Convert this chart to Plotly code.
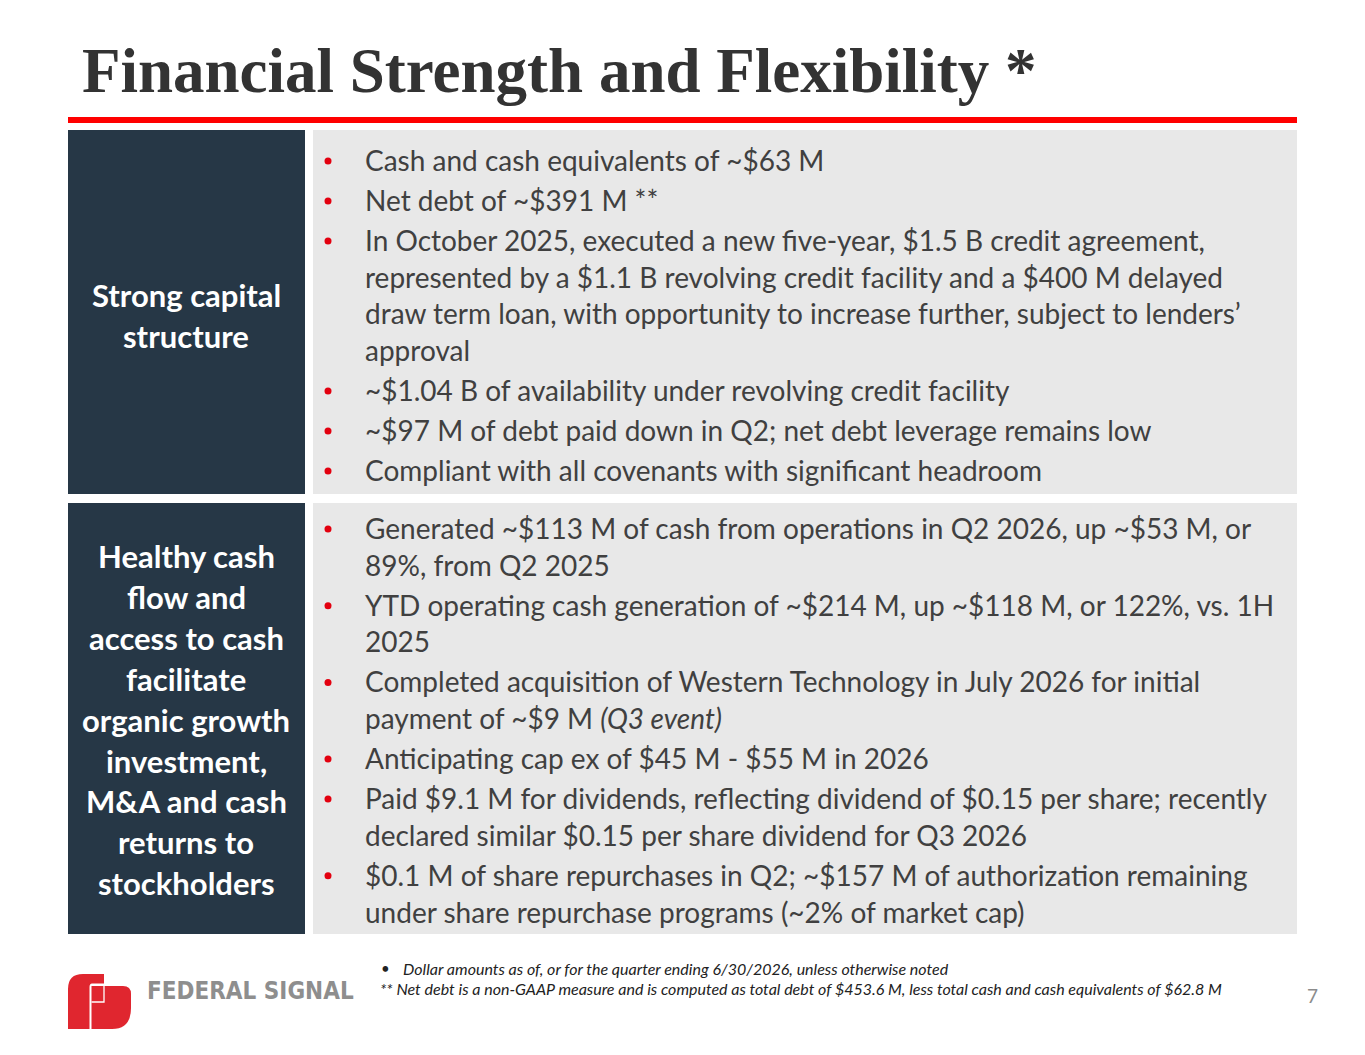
"""Slide: Financial Strength and Flexibility, drawn with Plotly shapes and text."""

import plotly.graph_objects as go

W, H = 1365, 1055
PAD = 8  # browser body margin around the plot div

TITLE = "Financial Strength and Flexibility *"

# row labels (left dark cells)
row_labels = [
    ["Strong capital", "structure"],
    ["Healthy cash", "flow and", "access to cash", "facilitate", "organic growth",
     "investment,", "M&A and cash", "returns to", "stockholders"],
]

# bullet text per row, each bullet split into its printed lines
capital_items = [
    ["Cash and cash equivalents of ~$63 M"],
    ["Net debt of ~$391 M **"],
    ["In October 2025, executed a new five-year, $1.5 B credit agreement,",
     "represented by a $1.1 B revolving credit facility and a $400 M delayed",
     "draw term loan, with opportunity to increase further, subject to lenders’",
     "approval"],
    ["~$1.04 B of availability under revolving credit facility"],
    ["~$97 M of debt paid down in Q2; net debt leverage remains low"],
    ["Compliant with all covenants with significant headroom"],
]
cash_items = [
    ["Generated ~$113 M of cash from operations in Q2 2026, up ~$53 M, or",
     "89%, from Q2 2025"],
    ["YTD operating cash generation of ~$214 M, up ~$118 M, or 122%, vs. 1H",
     "2025"],
    ["Completed acquisition of Western Technology in July 2026 for initial",
     "payment of ~$9 M <i>(Q3 event)</i>"],
    ["Anticipating cap ex of $45 M - $55 M in 2026"],
    ["Paid $9.1 M for dividends, reflecting dividend of $0.15 per share; recently",
     "declared similar $0.15 per share dividend for Q3 2026"],
    ["$0.1 M of share repurchases in Q2; ~$157 M of authorization remaining",
     "under share repurchase programs (~2% of market cap)"],
]

footnotes = [
    "Dollar amounts as of, or for the quarter ending 6/30/2026, unless otherwise noted",
    "** Net debt is a non-GAAP measure and is computed as total debt of $453.6 M, less total cash and cash equivalents of $62.8 M",
]
PAGE = "7"
LOGO_TEXT = "FEDERAL SIGNAL"

DARK = "#263746"
GREY = "#E8E8E8"
RED = "#E3000F"
LOGO_RED = "#E0262F"
TEXT = "#404040"
BODY_FONT = "Lato"

fig = go.Figure()
shapes = []
ann = []


def label(x, y, text, size, color, family=BODY_FONT, anchor="left"):
    ann.append(dict(x=x, y=y, text=text, xanchor=anchor, yanchor="middle", showarrow=False,
                    font=dict(family=family, size=size, color=color)))


# title + red rule
label(80, 71, f"<b>{TITLE}</b>", 63, "#333333", family="Liberation Serif")
shapes.append(dict(type="rect", x0=68, x1=1297, y0=117, y1=123, fillcolor="#FF0000",
                   line_width=0, layer="below"))

rows = [
    dict(y0=130, y1=494, items=capital_items, start=160, label=row_labels[0], lab_y=295),
    dict(y0=503, y1=934, items=cash_items, start=528, label=row_labels[1], lab_y=556),
]

bullet_x, bullet_y = [], []
for r in rows:
    shapes.append(dict(type="rect", x0=68, x1=305, y0=r["y0"], y1=r["y1"], fillcolor=DARK,
                       line_width=0, layer="below"))
    shapes.append(dict(type="rect", x0=313, x1=1297, y0=r["y0"], y1=r["y1"], fillcolor=GREY,
                       line_width=0, layer="below"))
    y = r["start"]
    for item in r["items"]:
        bullet_x.append(328)
        bullet_y.append(y + 1)
        for i, line in enumerate(item):
            label(363, y, line, 28, TEXT)
            y += 36.7 if i < len(item) - 1 else 0
        y += 40
    for j, lab in enumerate(r["label"]):
        label(186, r["lab_y"] + j * 40.9, f"<b>{lab}</b>", 31, "white", anchor="center")

fig.add_trace(go.Scatter(x=bullet_x, y=bullet_y, mode="markers", hoverinfo="skip",
                         marker=dict(color=RED, size=7, line_width=0)))

# footnotes and page number
label(379, 968, "•", 15, "#222222")
label(401, 968, f"<i>{footnotes[0]}</i>", 16, "#222222")
label(378, 988, f"<i>{footnotes[1]}</i>", 16, "#222222")
label(1312, 995, PAGE, 19, "#8C8C8C", anchor="center")

# logo: red "fs" mark + grey wordmark
shapes.append(dict(type="path", fillcolor=LOGO_RED, line_width=0,
                   path="M 68,1029 L 68,989 Q 68,974 83,974 L 104,974 L 104,983.5 L 92,983.5 "
                        "Q 89.5,983.5 89.5,987 L 89.5,1029 Z"))
shapes.append(dict(type="path", fillcolor=LOGO_RED, line_width=0,
                   path="M 91.5,986 L 123,986 Q 131,986 131,994 L 131,1008 Q 131,1029 112,1029 "
                        "L 91.5,1029 Z"))
shapes.append(dict(type="path", line=dict(color="white", width=1.3),
                   path="M 91.5,1002 L 104,1002 L 104,986"))
label(145, 991, f"<b>{LOGO_TEXT}</b>", 24, "#8E8E8E", family="DejaVu Sans Condensed")

fig.update_layout(
    width=W - 2 * PAD, height=H - 2 * PAD,
    margin=dict(l=0, r=0, t=0, b=0),
    paper_bgcolor="white", plot_bgcolor="white",
    showlegend=False,
    xaxis=dict(range=[PAD, W - PAD], visible=False, fixedrange=True),
    yaxis=dict(range=[H - PAD, PAD], visible=False, fixedrange=True),
    shapes=shapes,
    annotations=ann,
)

fig.write_html("out.html")
